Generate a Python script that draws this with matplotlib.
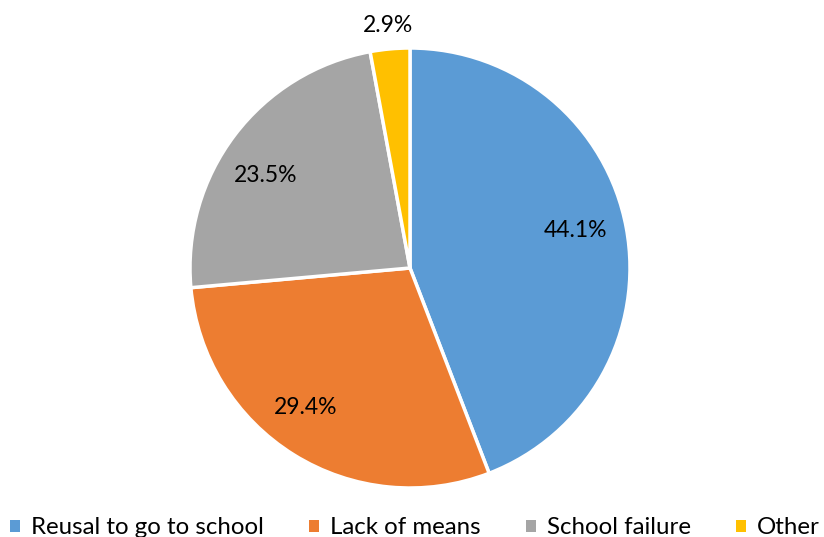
import numpy as np
import matplotlib.pyplot as plt
from matplotlib.patches import Patch

plt.rcParams['font.family'] = ['Lato', 'DejaVu Sans']

labels = ["Reusal to go to school", "Lack of means", "School failure", "Other"]
values = [44.1, 29.4, 23.5, 2.9]
colors = ["#5b9bd5", "#ed7d31", "#a5a5a5", "#ffc000"]

# label placement (fraction of radius, angle nudge in degrees)
label_dist = [0.77, 0.79, 0.78, 1.107]
label_nudge = [2.4, -4.9, 4.4, 0.0]

fig = plt.figure(figsize=(8.24, 5.37), dpi=100)
ax = fig.add_axes([190 / 824, 49 / 537, 440 / 824, 440 / 537])

wedges, _ = ax.pie(values, colors=colors, startangle=90, counterclock=False,
                   wedgeprops=dict(edgecolor="white", linewidth=2.5))

for w, v, d, n in zip(wedges, values, label_dist, label_nudge):
    mid = np.deg2rad((w.theta1 + w.theta2) / 2 + n)
    ax.text(d * np.cos(mid), d * np.sin(mid), f"{v:.1f}%", ha="center", va="center",
            fontsize=16.5, color="black", clip_on=False)

ax.set_xlim(-1, 1)
ax.set_ylim(-1, 1)
ax.set_aspect("equal")

handles = [Patch(facecolor=c, edgecolor="none") for c in colors]
fig.legend(handles, labels, loc="center", bbox_to_anchor=(415 / 824, 1 - 528 / 537), ncol=4,
           frameon=False, fontsize=17.3, handlelength=0.42, handleheight=0.42,
           handletextpad=0.45, columnspacing=1.88, borderpad=0)

fig.savefig("out.png", dpi=100)
